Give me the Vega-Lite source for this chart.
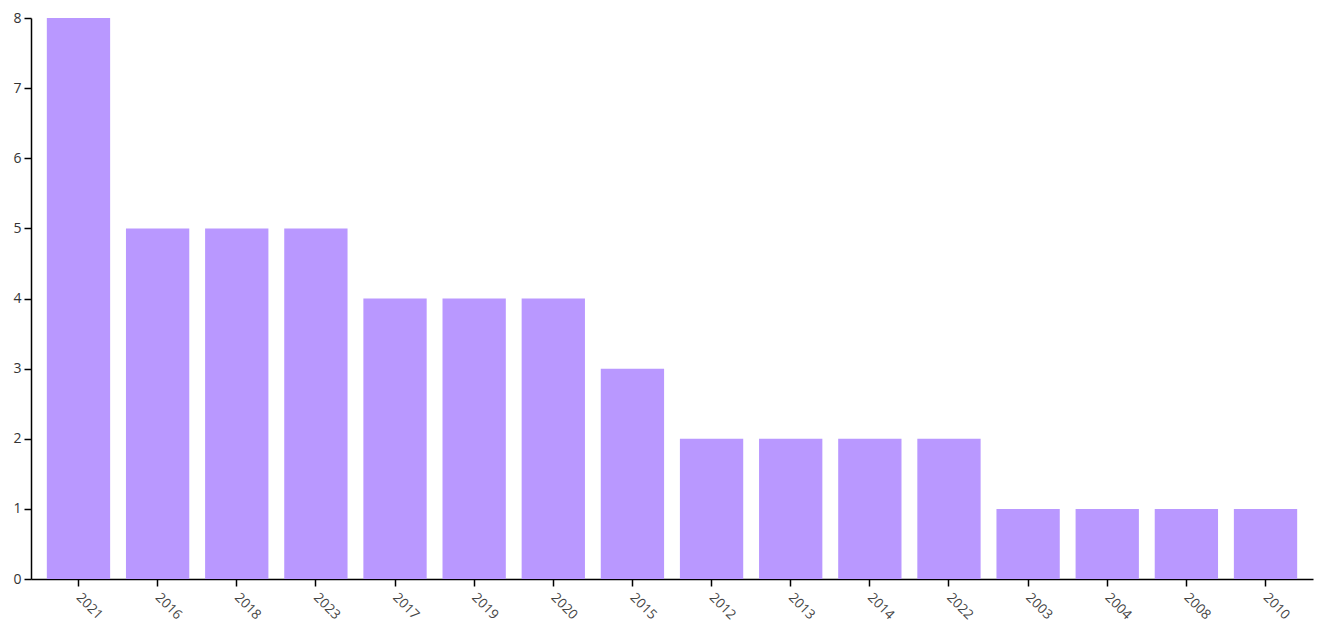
{
  "$schema": "https://vega.github.io/schema/vega-lite/v6.json",
  "width": 1282,
  "height": 561,
  "autosize": {"type": "none"},
  "padding": {"left": 31, "top": 18, "right": 12, "bottom": 55},
  "background": "white",
  "config": {"view": {"stroke": null}},
  "data": {"values": [
    {"year": "2021", "count": 8},
    {"year": "2016", "count": 5},
    {"year": "2018", "count": 5},
    {"year": "2023", "count": 5},
    {"year": "2017", "count": 4},
    {"year": "2019", "count": 4},
    {"year": "2020", "count": 4},
    {"year": "2015", "count": 3},
    {"year": "2012", "count": 2},
    {"year": "2013", "count": 2},
    {"year": "2014", "count": 2},
    {"year": "2022", "count": 2},
    {"year": "2003", "count": 1},
    {"year": "2004", "count": 1},
    {"year": "2008", "count": 1},
    {"year": "2010", "count": 1}
  ]},
  "mark": {"type": "bar", "color": "#b998ff"},
  "encoding": {
    "x": {
      "field": "year", "type": "nominal", "sort": null,
      "scale": {"paddingInner": 0.2, "paddingOuter": 0.2},
      "axis": {"title": null, "labelAngle": 45, "labelAlign": "left", "labelBaseline": "middle", "labelColor": "#444", "labelFontSize": 13.5, "labelFont": "Open Sans", "domainColor": "black", "domainWidth": 1.5, "tickColor": "black", "tickWidth": 1.5, "tickSize": 7, "labelPadding": 9, "labelDx": -5, "grid": false, "labelOverlap": false}
    },
    "y": {
      "field": "count", "type": "quantitative",
      "scale": {"domain": [0, 8], "nice": false},
      "axis": {"title": null, "values": [0,1,2,3,4,5,6,7,8], "labelOverlap": false, "labelFlush": false, "labelColor": "#333", "labelFontSize": 14, "labelFont": "Open Sans", "domainColor": "black", "domainWidth": 1.5, "tickColor": "black", "tickWidth": 1.5, "tickSize": 7, "grid": false, "labelPadding": 3}
    }
  }
}
